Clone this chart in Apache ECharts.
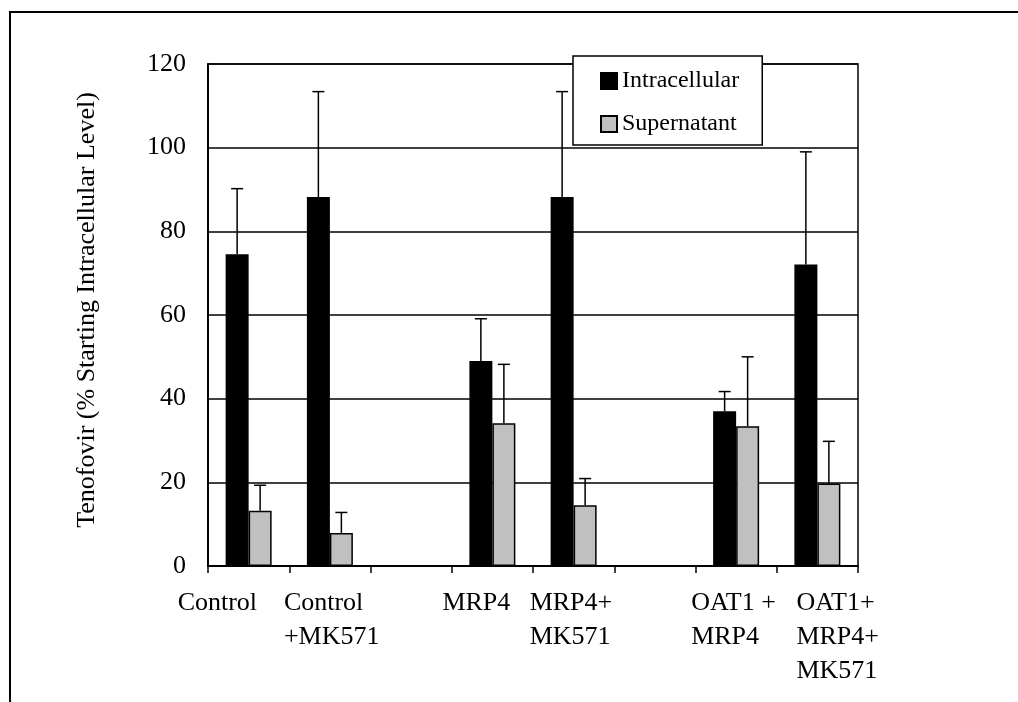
<!DOCTYPE html>
<html>
<head>
<meta charset="utf-8">
<script src="https://cdn.jsdelivr.net/npm/echarts@6/dist/echarts.min.js"></script>
<style>
  html, body { margin: 0; padding: 0; background: #fff; }
  #chart { width: 1018px; height: 702px; }
</style>
</head>
<body>
<div id="chart"></div>
<script>
// categories (two empty spacer slots, as in the original figure)
const categories = ['Control', 'Control\n+MK571', '', 'MRP4', 'MRP4+\nMK571', '', 'OAT1 +\nMRP4', 'OAT1+\nMRP4+\nMK571']
// where each label's left edge sits relative to its category centre (px)
const labelShift = [-71, -46, 0, -50, -44, 0, -45, -21]

const intracellular = [74.5, 88.2, null, 49.0, 88.2, null, 37.0, 72.1]
const intracellularErr = [15.7, 25.2, null, 10.1, 25.2, null, 4.7, 26.9]
const supernatant = [13.2, 7.9, null, 34.1, 14.5, null, 33.4, 19.7]
const supernatantErr = [6.1, 4.9, null, 14.1, 6.4, null, 16.6, 10.1]

const FONT = '"Liberation Serif", "Times New Roman", serif'
const BAR_W = 23

const el = document.getElementById('chart')
const chart = echarts.init(el)

function errData(mean, err) {
	const out = []
	mean.forEach((m, i) => {
		if (m != null) out.push([i, m, m + err[i]])
	})
	return out
}

function errRenderer(offset) {
	return function (params, api) {
		const x = api.coord([api.value(0), 0])[0] + offset
		const y0 = api.coord([api.value(0), api.value(1)])[1]
		const y1 = api.coord([api.value(0), api.value(2)])[1]
		const style = { stroke: '#000', lineWidth: 1.5 }
		return {
			type: 'group',
			children: [
				{ type: 'line', shape: { x1: x, y1: y0, x2: x, y2: y1 }, style },
				{ type: 'line', shape: { x1: x - 6, y1: y1, x2: x + 6, y2: y1 }, style },
			],
		}
	}
}

const option = {
	animation: false,
	textStyle: { fontFamily: FONT },
	grid: {
		left: 208, top: 64, right: 160, bottom: 136,
		show: true, borderColor: '#000', borderWidth: 1.5,
	},
	legend: {
		orient: 'vertical',
		left: 573, top: 56,
		backgroundColor: '#fff',
		borderColor: '#000', borderWidth: 1.5,
		padding: [13, 23, 9, 27],
		itemWidth: 16, itemHeight: 16, itemGap: 19,
		icon: 'rect',
		textStyle: { fontFamily: FONT, fontSize: 24, color: '#000', lineHeight: 24 },
		data: ['Intracellular', 'Supernatant'],
	},
	xAxis: {
		type: 'category',
		data: categories,
		axisLine: { lineStyle: { color: '#000', width: 2 } },
		axisTick: { show: true, length: 7, lineStyle: { color: '#000', width: 1.5 } },
		axisLabel: { show: false },
	},
	yAxis: {
		type: 'value',
		min: 0, max: 120, interval: 20,
		axisLine: { show: true, lineStyle: { color: '#000', width: 2 } },
		axisTick: { show: false },
		axisLabel: { fontFamily: FONT, fontSize: 26, color: '#000', margin: 22 },
		splitLine: { lineStyle: { color: '#000', width: 1.5 } },
	},
	series: [
		{
			name: 'Intracellular', type: 'bar',
			data: intracellular.map(v => (v == null ? '-' : v)),
			barWidth: BAR_W, barGap: '0%',
			itemStyle: { color: '#000', borderColor: '#000', borderWidth: 1.5 },
			z: 2,
		},
		{
			name: 'Supernatant', type: 'bar',
			data: supernatant.map(v => (v == null ? '-' : v)),
			barWidth: BAR_W, barGap: '0%',
			itemStyle: { color: '#c0c0c0', borderColor: '#000', borderWidth: 1.5 },
			z: 2,
		},
		{
			type: 'custom', name: 'errI',
			data: errData(intracellular, intracellularErr),
			encode: { x: 0, y: [1, 2] },
			renderItem: errRenderer(-BAR_W / 2),
			z: 3,
		},
		{
			type: 'custom', name: 'errS',
			data: errData(supernatant, supernatantErr),
			encode: { x: 0, y: [1, 2] },
			renderItem: errRenderer(BAR_W / 2),
			z: 3,
		},
	],
}

chart.setOption(option)

// category labels: left-aligned text blocks placed off each category centre
const labelEls = []
categories.forEach((c, i) => {
	if (!c) return
	const cx = chart.convertToPixel({ xAxisIndex: 0 }, i)
	labelEls.push({
		type: 'text',
		x: cx + labelShift[i],
		y: 586,
		style: {
			text: c,
			fontFamily: FONT, fontSize: 26, lineHeight: 34,
			fill: '#000', align: 'left', verticalAlign: 'top',
		},
	})
})

chart.setOption({
	graphic: [
		{
			type: 'rect',
			shape: { x: 10, y: 12, width: 1100, height: 800 },
			style: { fill: 'none', stroke: '#000', lineWidth: 2 },
			silent: true,
		},
		{
			type: 'text',
			x: 87, y: 310,
			rotation: Math.PI / 2,
			style: {
				text: 'Tenofovir (% Starting Intracellular Level)',
				fontFamily: FONT, fontSize: 26, fill: '#000',
				align: 'center', verticalAlign: 'middle',
			},
		},
		...labelEls,
	],
})
</script>
</body>
</html>
